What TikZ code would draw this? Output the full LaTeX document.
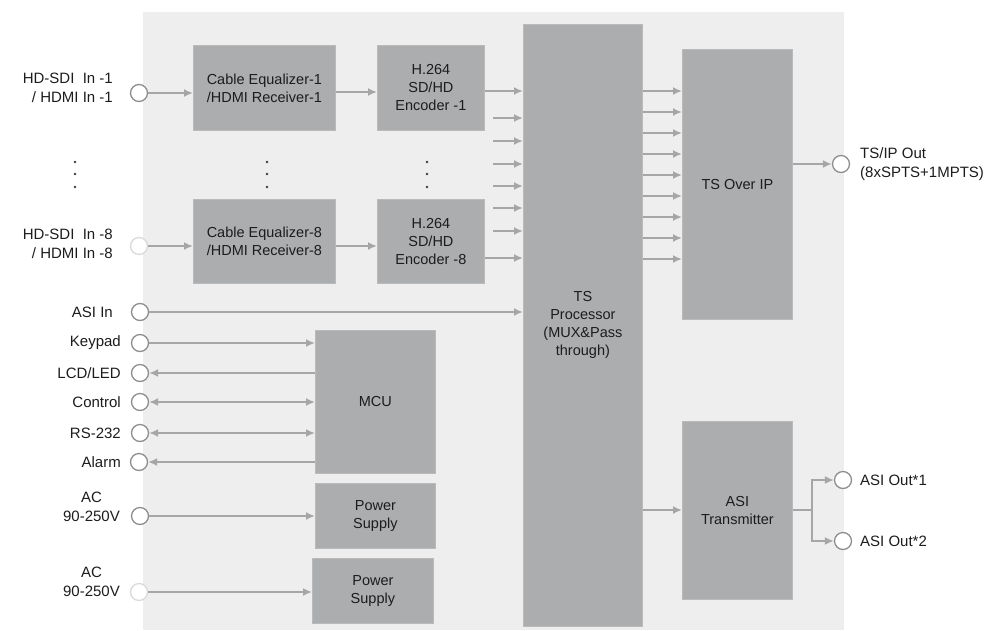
\documentclass[tikz,border=0pt]{standalone}
\usepackage{fontspec}
\setmainfont{Liberation Sans}
\usetikzlibrary{arrows.meta}
\definecolor{panel}{HTML}{EEEEEE}
\definecolor{blkfill}{HTML}{ACADAF}
\definecolor{blkedge}{HTML}{B9BABC}
\definecolor{arrcol}{HTML}{A6A6A6}
\definecolor{txt}{HTML}{1C1C1C}
\definecolor{portedge}{HTML}{8E8E8E}
\definecolor{portfaint}{HTML}{DADADA}
\begin{document}
\begin{tikzpicture}[x=1pt,y=-1pt,
  blk/.style={draw=blkedge, line width=0.8pt, fill=blkfill, anchor=north west, inner sep=0pt,
    align=center, text=txt, font=\fontsize{14.5}{18}\selectfont},
  port/.style={circle, draw=#1, fill=white, line width=1.3pt, minimum size=17pt, inner sep=0pt},
  port/.default=portedge,
  lbl/.style={text=txt, font=\fontsize{15}{19.5}\selectfont, inner sep=0pt},
  wire/.style={draw=arrcol, line width=2pt},
  arr/.style={wire, -{Latex[length=9pt,width=8pt]}},
  arrb/.style={wire, {Latex[length=9pt,width=8pt]}-{Latex[length=9pt,width=8pt]}},
  dot/.style={fill=txt!85}
]
\useasboundingbox (0,0) rectangle (1006,630);
\fill[panel] (143,12) rectangle (844,630);

% blocks
\node[blk, minimum width=142pt, minimum height=85pt] (ce1) at (193,45) {Cable Equalizer-1\\/HDMI Receiver-1};
\node[blk, minimum width=107pt, minimum height=85pt] (enc1) at (377,45) {H.264\\SD/HD\\Encoder -1};
\node[blk, minimum width=142pt, minimum height=84pt] (ce8) at (193,199) {Cable Equalizer-8\\/HDMI Receiver-8};
\node[blk, minimum width=107pt, minimum height=84pt] (enc8) at (377,199) {H.264\\SD/HD\\Encoder -8};
\node[blk, minimum width=119pt, minimum height=602pt] (tsp) at (523,24) {TS\\Processor\\(MUX\&Pass\\through)};
\node[blk, minimum width=110pt, minimum height=270pt] (ip) at (682,49) {TS Over IP};
\node[blk, minimum width=110pt, minimum height=178pt] (asi) at (682,421) {ASI\\Transmitter};
\node[blk, minimum width=120pt, minimum height=143pt] (mcu) at (315,330) {MCU};
\node[blk, minimum width=120pt, minimum height=65pt] (ps1) at (315,483) {Power\\Supply};
\node[blk, minimum width=121pt, minimum height=65pt] (ps2) at (312,558) {Power\\Supply};

% ports
\node[port] (p1) at (139,93) {};
\node[port=portfaint] (p8) at (139,246) {};
\node[port] (pasi) at (140,312) {};
\node[port] (pkey) at (140,343) {};
\node[port] (plcd) at (140,373) {};
\node[port] (pctl) at (140,402) {};
\node[port] (prs) at (140,433) {};
\node[port] (palm) at (139,462) {};
\node[port] (pac1) at (140,516) {};
\node[port=portfaint] (pac2) at (139,592) {};
\node[port] (pip) at (841,164) {};
\node[port] (po1) at (843,480) {};
\node[port] (po2) at (843,541) {};

% labels
\node[lbl, anchor=east, align=right] (l1) at (113,88) {HD-SDI\ \ In -1\\/ HDMI In -1};
\node[lbl, anchor=east, align=right] (l8) at (113,244) {HD-SDI\ \ In -8\\/ HDMI In -8};
\node[lbl, anchor=east] (lasi) at (113,312) {ASI In};
\node[lbl, anchor=east] (lkey) at (121,343) {Keypad};
\node[lbl, anchor=east] (llcd) at (121,373) {LCD/LED};
\node[lbl, anchor=east] (lctl) at (121,402) {Control};
\node[lbl, anchor=east] (lrs) at (121,433) {RS-232};
\node[lbl, anchor=east] (lalm) at (121,462) {Alarm};
\node[lbl, anchor=east, align=center] (lac1) at (120,507) {AC\\90-250V};
\node[lbl, anchor=east, align=center] (lac2) at (120,582) {AC\\90-250V};
\node[lbl, anchor=west, align=left] (lip) at (860,164) {TS/IP Out\\(8xSPTS+1MPTS)};
\node[lbl, anchor=west] (lo1) at (860,480) {ASI Out*1};
\node[lbl, anchor=west] (lo2) at (860,541) {ASI Out*2};

% vertical ellipses
\foreach \x in {75,267,427}{
  \foreach \y in {162,174,187}{
    \fill[dot] (\x,\y) circle (1.3pt);
  }
}

% video chain
\draw[arr] (p1) -- (p1 -| ce1.west);
\draw[arr] (ce1.east |- 0,92) -- (enc1.west |- 0,92);
\draw[arr] (enc1.east |- 0,91) -- (tsp.west |- 0,91);
\draw[arr] (p8) -- (p8 -| ce8.west);
\draw[arr] (ce8.east |- 0,246) -- (enc8.west |- 0,246);
\draw[arr] (enc8.east |- 0,258) -- (tsp.west |- 0,258);
\foreach \y [count=\i] in {118,141,164,186,208,231}{
  \coordinate (s\i) at (493,\y);
  \draw[arr] (s\i) -- (s\i -| tsp.west);
}

% ASI in and control
\draw[arr] (pasi) -- (pasi -| tsp.west);
\draw[arr] (pkey) -- (pkey -| mcu.west);
\draw[arr] (plcd -| mcu.west) -- (plcd);
\draw[arrb] (pctl) -- (pctl -| mcu.west);
\draw[arrb] (prs) -- (prs -| mcu.west);
\draw[arr] (palm -| mcu.west) -- (palm);
\draw[arr] (pac1) -- (pac1 -| ps1.west);
\draw[arr] (pac2) -- (pac2 -| ps2.west);

% TS processor outputs
\foreach \y in {91,112,133,154,175,196,217,238,259}{
  \draw[arr] (tsp.east |- 0,\y) -- (ip.west |- 0,\y);
}
\draw[arr] (ip.east |- pip) -- (pip);
\draw[arr] (tsp.east |- 0,510) -- (asi.west |- 0,510);
\coordinate (sp) at (812,510);
\draw[wire] (asi.east |- sp) -- (sp);
\draw[arr] (sp) |- (po1);
\draw[arr] (sp) |- (po2);
\end{tikzpicture}
\end{document}
